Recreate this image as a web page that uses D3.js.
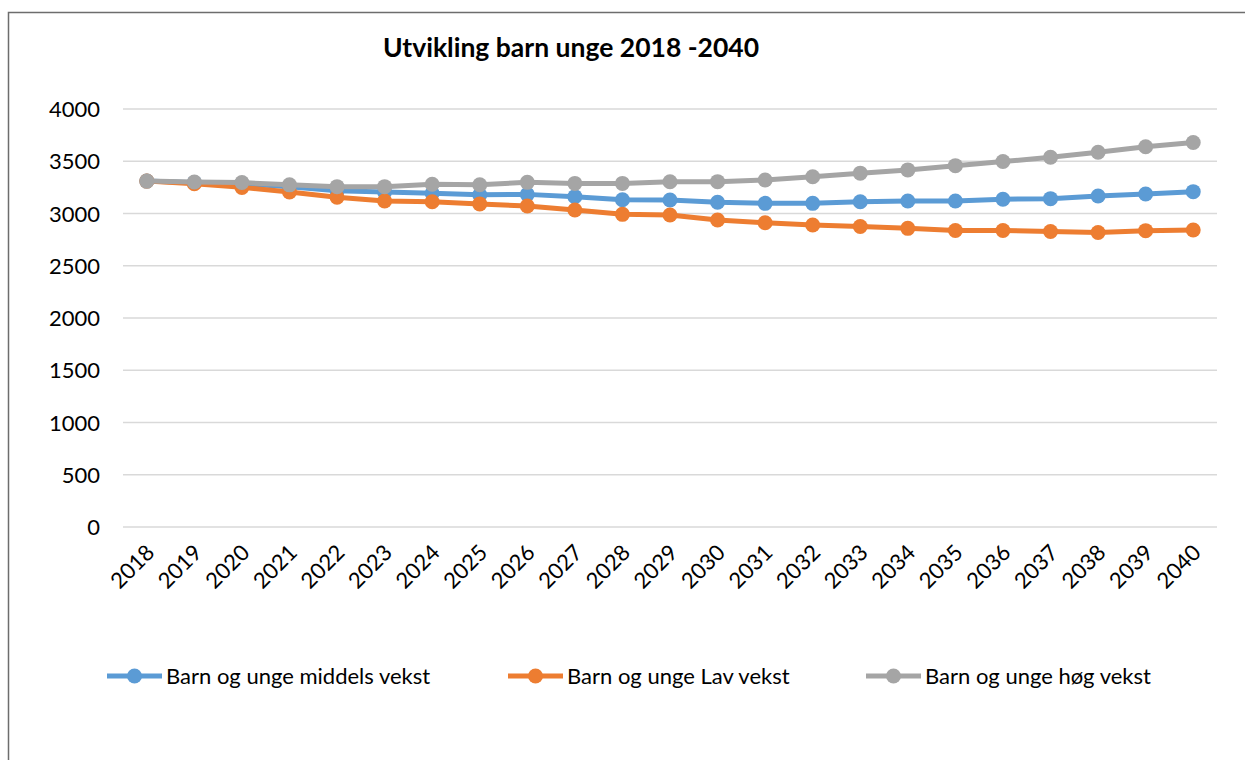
<!DOCTYPE html>
<html>
<head>
<meta charset="utf-8">
<script src="https://cdn.jsdelivr.net/npm/d3@7/dist/d3.min.js"></script>
<style>
  html, body { margin: 0; padding: 0; background: #fff; }
  svg { display: block; }
  text { font-family: Lato, "Open Sans", sans-serif; fill: #000; }
</style>
</head>
<body>
<svg id="chart" width="1245" height="760"></svg>
<script>
// Years on the category axis
const years = ["2018","2019","2020","2021","2022","2023","2024","2025","2026","2027","2028",
               "2029","2030","2031","2032","2033","2034","2035","2036","2037","2038","2039","2040"];

// Children and young people, three growth scenarios
const middels = [3310, 3295, 3285, 3255, 3218, 3205, 3193, 3180, 3183, 3161, 3132, 3129,
                 3107, 3097, 3097, 3113, 3120, 3120, 3136, 3142, 3167, 3187, 3209];
const lav     = [3310, 3285, 3250, 3206, 3155, 3120, 3113, 3092, 3072, 3033, 2992, 2986,
                 2938, 2912, 2890, 2875, 2858, 2838, 2838, 2828, 2818, 2836, 2842];
const hoeg    = [3310, 3302, 3296, 3274, 3257, 3257, 3280, 3275, 3298, 3288, 3288, 3304,
                 3305, 3321, 3352, 3386, 3417, 3458, 3497, 3538, 3586, 3639, 3679];

const yTicks = [0, 500, 1000, 1500, 2000, 2500, 3000, 3500, 4000];

const seriesNames = ["Barn og unge middels vekst", "Barn og unge Lav vekst", "Barn og unge høg vekst"];
const seriesColors = ["#5B9BD5", "#ED7D31", "#A5A5A5"];
const seriesValues = [middels, lav, hoeg];

const titleText = "Utvikling barn unge 2018 -2040";

const svg = d3.select("#chart");

// Outer chart frame
svg.append("rect")
  .attr("x", 8.5).attr("y", 12.5)
  .attr("width", 1400).attr("height", 900)
  .attr("fill", "none")
  .attr("stroke", "#6d6d6d")
  .attr("stroke-width", 1.5);

const plot = { left: 123, right: 1217, top: 109, bottom: 527 };

const x = d3.scaleBand().domain(years).range([plot.left, plot.right]);
const y = d3.scaleLinear().domain([0, 4000]).range([plot.bottom, plot.top]);

// Horizontal gridlines
svg.append("g")
  .selectAll("line")
  .data(yTicks)
  .join("line")
  .attr("x1", plot.left).attr("x2", plot.right)
  .attr("y1", d => y(d)).attr("y2", d => y(d))
  .attr("stroke", "#d9d9d9")
  .attr("stroke-width", 1.5);

// Value axis labels
const yAxis = d3.axisLeft(y).tickValues(yTicks).tickFormat(d3.format("d")).tickSize(0).tickPadding(23);
const gy = svg.append("g").attr("transform", `translate(${plot.left},0)`).call(yAxis);
gy.select(".domain").remove();
gy.selectAll("text")
  .style("font-family", "Lato, 'Open Sans', sans-serif")
  .style("font-size", "22px")
  .attr("fill", "#000")
  .attr("dy", "0.35em");

// Year axis labels, rotated
const xAxis = d3.axisBottom(x).tickSize(0).tickPadding(0);
const gx = svg.append("g").attr("transform", `translate(0,${plot.bottom})`).call(xAxis);
gx.select(".domain").remove();
gx.selectAll("text")
  .style("font-family", "Lato, 'Open Sans', sans-serif")
  .style("font-size", "22px")
  .attr("fill", "#000")
  .attr("text-anchor", "end")
  .attr("dy", "0")
  .attr("y", 0)
  .attr("transform", "translate(9,27) rotate(-45)");

const cx = d => x(d) + x.bandwidth() / 2;

const line = d3.line()
  .x((d, i) => cx(years[i]))
  .y(d => y(d));

// Series lines with circular markers
seriesValues.forEach((vals, si) => {
  const g = svg.append("g");
  g.append("path")
    .datum(vals)
    .attr("d", line)
    .attr("fill", "none")
    .attr("stroke", seriesColors[si])
    .attr("stroke-width", 5)
    .attr("stroke-linejoin", "round");
  g.selectAll("circle")
    .data(vals)
    .join("circle")
    .attr("cx", (d, i) => cx(years[i]))
    .attr("cy", d => y(d))
    .attr("r", 7.5)
    .attr("fill", seriesColors[si]);
});

// Title
svg.append("text")
  .attr("x", 571).attr("y", 57)
  .attr("text-anchor", "middle")
  .style("font-size", "26.5px")
  .style("font-weight", "bold")
  .text(titleText);

// Legend
const legendX = [107, 508, 866];
const legendY = 676;
seriesNames.forEach((name, i) => {
  const g = svg.append("g").attr("transform", `translate(${legendX[i]},${legendY})`);
  g.append("line")
    .attr("x1", 0).attr("x2", 55)
    .attr("y1", 0).attr("y2", 0)
    .attr("stroke", seriesColors[i])
    .attr("stroke-width", 5);
  g.append("circle")
    .attr("cx", 27.5).attr("cy", 0).attr("r", 7.5)
    .attr("fill", seriesColors[i]);
  g.append("text")
    .attr("x", 59).attr("y", 0).attr("dy", "0.35em")
    .style("font-size", "22px")
    .text(name);
});
</script>
</body>
</html>
